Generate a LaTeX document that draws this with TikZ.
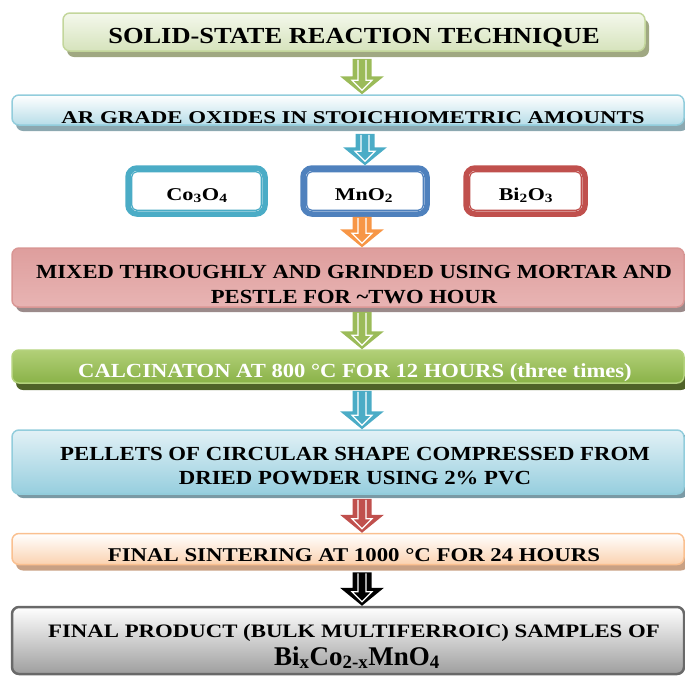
\documentclass[tikz,border=0pt]{standalone}
\usepackage{fontspec}
\setmainfont{Liberation Serif}
\usetikzlibrary{shadows,calc}
\definecolor{gA}{HTML}{9BBB59}
\definecolor{bA}{HTML}{4BACC6}
\definecolor{oA}{HTML}{F79646}
\definecolor{rA}{HTML}{C0504D}
\definecolor{dbA}{HTML}{4F81BD}
\tikzset{
  box/.style={rounded corners=7pt, inner sep=0pt, line width=1.5pt},
  oxbox/.style={rounded corners=9pt, draw=#1, line width=5.5pt, fill=white, inner sep=0pt},
  shad/.style 2 args={drop shadow={shadow xshift=4pt, shadow yshift=-#1pt, fill=#2, opacity=1}},
}
% text line: name, x, baseline y, size, x-stretch, text
\newcommand\tline[6]{%
  \node[anchor=base, inner sep=0pt, font=\bfseries\fontsize{#4}{#4}\selectfont] (#1) at (#2,#3) {\scalebox{#5}[1]{#6}};}
\newcommand\blockarr[3]{%
  \fill[#3] ($(#1)+(-9.5,0)$) -- ($(#1)+(9.5,0)$) -- ($(#1|-#2)+(9.5,-18)$) -- ($(#1|-#2)+(22,-18)$) -- (#1|-#2) -- ($(#1|-#2)+(-22,-18)$) -- ($(#1|-#2)+(-9.5,-18)$) -- cycle;
  \draw[white, line width=1.2pt, line join=miter] ($(#1)+(-4,1)$) -- ($(#1|-#2)+(-4,-14)$) -- ($(#1|-#2)+(-10,-14)$) -- ($(#1|-#2)+(0,-4)$) -- ($(#1|-#2)+(10,-14)$) -- ($(#1|-#2)+(4,-14)$) -- ($(#1)+(4,1)$);
}
\begin{document}
\begin{tikzpicture}[x=1pt,y=-1pt]
\useasboundingbox (0,0) rectangle (685,675);

% boxes
\node[box, minimum width=582pt, minimum height=38pt, draw={rgb,255:red,195;green,214;blue,155},
  top color={rgb,255:red,244;green,248;blue,236}, bottom color={rgb,255:red,214;green,227;blue,188},
  shad={6}{{rgb,255:red,160;green,168;blue,130}}] (b1) at (354,32) {};
\tline{t1}{354}{43}{23}{1.15}{SOLID-STATE REACTION TECHNIQUE}

\node[box, minimum width=672pt, minimum height=30pt, draw={rgb,255:red,146;green,205;blue,220},
  top color=white, bottom color={rgb,255:red,183;green,221;blue,232},
  shad={6}{{rgb,255:red,140;green,168;blue,176}}] (b2) at (348,110) {};
\tline{t2}{353}{123}{18}{1.27}{AR GRADE OXIDES IN STOICHIOMETRIC AMOUNTS}

\node[oxbox=bA, minimum width=137pt, minimum height=46pt] (co) at (196.5,191) {};
\node[oxbox=dbA, minimum width=124pt, minimum height=46pt] (mn) at (365,191) {};
\node[oxbox=rA, minimum width=119pt, minimum height=46pt] (bi) at (525.5,191) {};
\foreach \n/\c in {co/bA,mn/dbA,bi/rA}{
  \draw[\c, line width=1.3pt, rounded corners=5pt] ($(\n.north west)+(6.5,6.5)$) rectangle ($(\n.south east)+(-6.5,-6.5)$);
}
\tline{tco}{197}{200}{18}{1.24}{Co\textsubscript{3}O\textsubscript{4}}
\tline{tmn}{364}{200}{18}{1.22}{MnO\textsubscript{2}}
\tline{tbi}{526}{200}{18}{1.22}{Bi\textsubscript{2}O\textsubscript{3}}

\node[box, minimum width=672pt, minimum height=59pt, draw={rgb,255:red,217;green,150;blue,148},
  top color={rgb,255:red,222;green,158;blue,157}, middle color={rgb,255:red,245;green,224;blue,223}, bottom color={rgb,255:red,232;green,180;blue,179},
  shad={5}{{rgb,255:red,155;green,138;blue,138}}] (b4) at (348,277.5) {};
\tline{t4a}{354}{278}{20}{1.13}{MIXED THROUGHLY AND GRINDED USING MORTAR AND}
\tline{t4b}{354}{303}{20}{1.13}{PESTLE FOR \textasciitilde TWO HOUR}

\node[box, minimum width=672pt, minimum height=33pt, draw={rgb,255:red,180;green,210;blue,125},
  top color={rgb,255:red,178;green,208;blue,120}, bottom color={rgb,255:red,138;green,178;blue,72},
  shad={7}{{rgb,255:red,79;green,98;blue,40}}] (b5) at (348,366.5) {};
\node[anchor=base, inner sep=0pt, text=white, font=\bfseries\fontsize{20}{20}\selectfont] (t5) at (355,377) {\scalebox{1.13}[1]{CALCINATON AT 800 °C FOR 12 HOURS (three times)}};

\node[box, minimum width=672pt, minimum height=64pt, draw={rgb,255:red,146;green,205;blue,220},
  top color={rgb,255:red,226;green,241;blue,246}, bottom color={rgb,255:red,150;green,206;blue,222},
  shad={4}{{rgb,255:red,122;green,154;blue,165}}] (b6) at (348,462) {};
\tline{t6a}{355}{460}{20}{1.14}{PELLETS OF CIRCULAR SHAPE COMPRESSED FROM}
\tline{t6b}{355}{484}{20}{1.14}{DRIED POWDER USING 2\% PVC}

\node[box, minimum width=672pt, minimum height=31pt, draw={rgb,255:red,250;green,192;blue,144},
  top color=white, bottom color={rgb,255:red,251;green,210;blue,176},
  shad={6}{{rgb,255:red,201;green,161;blue,132}}] (b7) at (348,549) {};
\tline{t7}{354}{561}{19.5}{1.17}{FINAL SINTERING AT 1000 °C FOR 24 HOURS}

\node[box, minimum width=672pt, minimum height=67pt, draw={rgb,255:red,105;green,105;blue,105}, line width=2.5pt,
  top color=white, bottom color={rgb,255:red,158;green,158;blue,158}] (b8) at (348,640.5) {};
\tline{t8a}{354}{637}{19}{1.2}{FINAL PRODUCT (BULK MULTIFERROIC) SAMPLES OF}
\tline{t8b}{357}{665}{27}{1.0}{Bi\textsubscript{x}Co\textsubscript{2-x}MnO\textsubscript{4}}

% arrow start coordinates
\coordinate (s1) at ($(b1.south)+(8,7)$);
\coordinate (s2) at ($(b2.south)+(17,8)$);
\coordinate (s3) at ($(mn.south)+(-3,0)$);
\coordinate (s4) at ($(b4.south)+(14,4)$);
\coordinate (s5) at ($(b5.south)+(14,7)$);
\coordinate (s6) at ($(b6.south)+(14,4)$);
\coordinate (s7) at ($(b7.south)+(14,7)$);

\blockarr{s1}{b2.north}{gA}
\blockarr{s2}{mn.north}{bA}
\blockarr{s3}{b4.north}{oA}
\blockarr{s4}{b5.north}{gA}
\blockarr{s5}{b6.north}{bA}
\blockarr{s6}{b7.north}{rA}
\blockarr{s7}{b8.north}{black}
\end{tikzpicture}
\end{document}
